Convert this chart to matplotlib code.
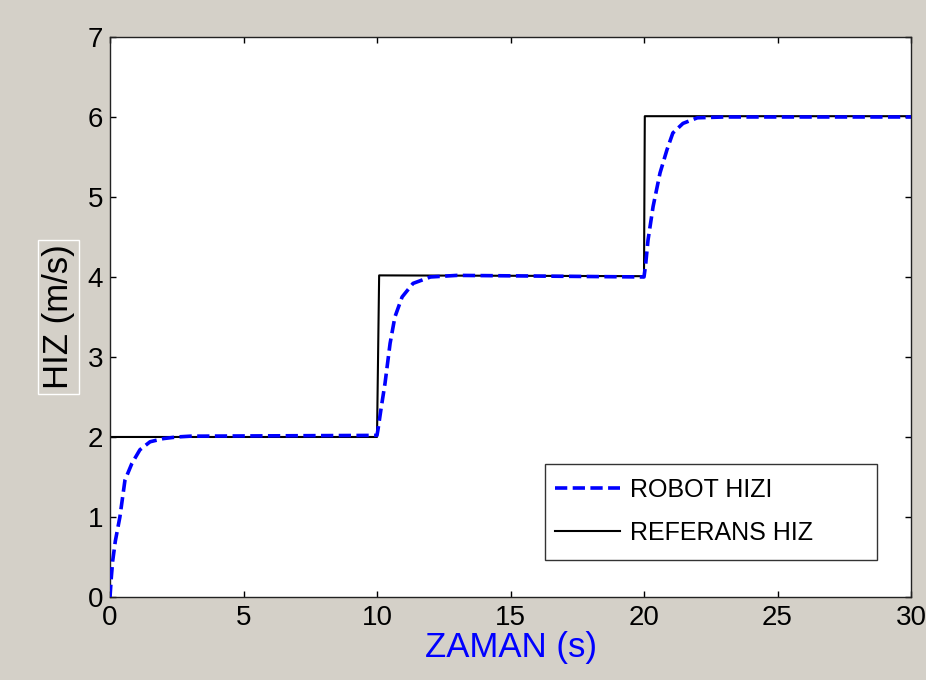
import matplotlib
matplotlib.use('Agg')
import matplotlib.pyplot as plt
from matplotlib.patches import Rectangle

# Reference speed (step changes at 10 s and 20 s)
ref_t = [0, 10, 10.08, 20, 20.03, 30]
ref_v = [2, 2, 4.02, 4.01, 6.01, 6.01]

# Measured robot speed
robot_t = [0, 0.05, 0.1, 0.2, 0.37, 0.56, 0.82, 1.12, 1.5, 2.0, 2.5, 3.0,
           10.0, 10.04, 10.15, 10.3, 10.49, 10.67, 10.94, 11.35, 12.0, 13.0,
           20.0, 20.06, 20.15, 20.34, 20.6, 20.86, 21.08, 21.46, 22.0, 23.0, 30.0]
robot_v = [0, 0.25, 0.45, 0.7, 1.0, 1.46, 1.67, 1.84, 1.94, 1.98, 2.0, 2.01,
           2.02, 2.1, 2.35, 2.67, 3.17, 3.5, 3.75, 3.92, 4.0, 4.02,
           4.0, 4.15, 4.46, 4.88, 5.3, 5.59, 5.8, 5.92, 5.99, 6.0, 6.0]

xticks = [0, 5, 10, 15, 20, 25, 30]
yticks = [0, 1, 2, 3, 4, 5, 6, 7]

plt.rcParams['font.family'] = ['Liberation Sans', 'DejaVu Sans']

fig = plt.figure(figsize=(9.26, 6.8), dpi=100, facecolor='#d4d0c8')
ax = fig.add_axes([0.1188, 0.1221, 0.8650, 0.8235])
ax.set_facecolor('white')

ax.plot(robot_t, robot_v, color='#0000ff', lw=2.6, linestyle=(0, (3.4, 1.5)),
        label='ROBOT HIZI', zorder=3)
ax.plot(ref_t, ref_v, color='black', lw=1.5, label='REFERANS HIZ', zorder=2)

ax.set_xlim(0, 30)
ax.set_ylim(0, 7)
ax.set_xticks(xticks)
ax.set_yticks(yticks)
ax.tick_params(direction='in', length=4, width=1, labelsize=20,
               top=True, right=True)
ax.tick_params(axis='x', pad=6)
ax.tick_params(axis='y', pad=5)
for s in ax.spines.values():
    s.set_linewidth(1)
    s.set_color('#222222')

ax.set_xlabel('ZAMAN (s)', fontsize=25, color='#0000ff', labelpad=0)
ax.set_ylabel('HIZ (m/s)', fontsize=25, color='black', labelpad=9,
              bbox=dict(facecolor='none', edgecolor='white', lw=1, pad=3))

# legend box drawn separately (wide frame with extra space on the right)
ax.add_patch(Rectangle((0.543, 0.066), 0.4146, 0.1715, transform=ax.transAxes,
                       facecolor='white', edgecolor='#333333', lw=1, zorder=4))
leg = ax.legend(loc='center left', bbox_to_anchor=(0.556, 0.1527), fontsize=18,
                frameon=False, handlelength=2.6, handletextpad=0.4,
                labelspacing=0.75, borderpad=0, borderaxespad=0)
leg.set_zorder(5)

fig.savefig('out.png', dpi=100, facecolor=fig.get_facecolor())
